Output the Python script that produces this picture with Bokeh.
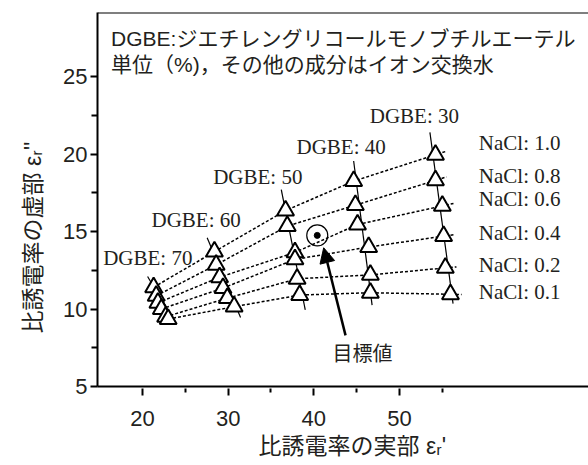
import math
from bokeh.plotting import figure
from bokeh.models import Label, Span, Arrow, NormalHead, FixedTicker, Range1d, Title
from bokeh.embed import file_html
from bokeh.resources import INLINE

# ---------------- data ----------------
dgbe = [70, 60, 50, 40, 30]                 # DGBE concentration (%)
nacl = [1.0, 0.8, 0.6, 0.4, 0.2, 0.1]       # NaCl concentration (%)

# real part eps_r' for each DGBE column (ordered like nacl)
re_d70 = [21.3, 21.6, 21.8, 22.2, 22.7, 23.0]
re_d60 = [28.4, 28.6, 29.0, 29.4, 29.9, 30.7]
re_d50 = [36.7, 36.9, 37.8, 37.8, 38.05, 38.35]
re_d40 = [44.65, 44.85, 45.1, 46.4, 46.6, 46.6]
re_d30 = [54.2, 54.2, 55.0, 55.15, 55.35, 55.95]
# imaginary part eps_r''
im_d70 = [11.4, 10.85, 10.4, 10.0, 9.5, 9.35]
im_d60 = [13.7, 12.85, 12.05, 11.35, 10.7, 10.15]
im_d50 = [16.35, 15.35, 13.65, 13.2, 11.95, 10.9]
im_d40 = [18.25, 16.7, 15.45, 14.0, 12.2, 11.05]
im_d30 = [19.95, 18.3, 16.65, 14.7, 12.65, 10.95]

# fitted straight line through each DGBE column (ends)
fit_re_top = [20.6, 27.55, 36.2, 44.65, 53.55]
fit_im_top = [12.1, 14.6, 17.7, 19.55, 21.4]
fit_re_bot = [23.85, 31.45, 39.0, 46.8, 56.25]
fit_im_bot = [9.0, 9.45, 9.95, 10.25, 10.35]

# target value
target_re = [40.4]
target_im = [14.75]

x_ticks = [20, 30, 40, 50]
x_minor = [25, 35, 45, 55]
y_ticks = [5, 10, 15, 20, 25]
y_minor = [7.5, 12.5, 17.5, 22.5]

title1 = "DGBE:ジエチレングリコールモノブチルエーテル"
title2 = "単位（%)，その他の成分はイオン交換水"
xlabel = "比誘電率の実部 εᵣ'"
ylabel = "比誘電率の虚部 εᵣ''"
target_label = "目標値"

re_cols = [re_d70, re_d60, re_d50, re_d40, re_d30]
im_cols = [im_d70, im_d60, im_d50, im_d40, im_d30]

# ---------------- figure ----------------
TXT = "#231f20"
SANS = "Liberation Sans, Noto Sans CJK JP"
CJK = "Noto Sans CJK JP"
SERIF = "Liberation Serif"

p = figure(width=588, height=465, output_backend="svg", toolbar_location=None,
           x_range=Range1d(14.75, 72.06), y_range=Range1d(5, 29.13),
           min_border_left=97, min_border_right=0, min_border_top=12,
           min_border_bottom=79)
p.outline_line_color = None
p.xgrid.visible = False
p.ygrid.visible = False
p.background_fill_color = "white"
p.border_fill_color = "white"

p.xaxis.ticker = FixedTicker(ticks=x_ticks, minor_ticks=x_minor)
p.yaxis.ticker = FixedTicker(ticks=y_ticks, minor_ticks=y_minor)
for ax in (p.xaxis, p.yaxis):
    ax.axis_line_width = 2
    ax.axis_line_color = "black"
    ax.major_tick_line_width = 2
    ax.minor_tick_line_width = 2
    ax.major_tick_line_color = "black"
    ax.minor_tick_line_color = "black"
    ax.major_label_text_font = "Liberation Sans"
    ax.major_label_text_font_size = "22px"
    ax.major_label_text_color = TXT
p.xaxis.major_tick_in = -2
p.xaxis.major_tick_out = 9
p.xaxis.minor_tick_in = -2
p.xaxis.minor_tick_out = 6
p.xaxis.major_label_standoff = 15
p.yaxis.major_tick_in = 0
p.yaxis.major_tick_out = 7
p.yaxis.minor_tick_in = 0
p.yaxis.minor_tick_out = 6
p.yaxis.major_label_standoff = 3

# axis titles
p.add_layout(Title(text=xlabel, align="left", offset=161, vertical_align="top",
                   standoff=9, text_font=SANS, text_font_size="23px",
                   text_font_style="normal", text_color=TXT), "below")
p.add_layout(Title(text=ylabel, align="left", offset=53, vertical_align="bottom",
                   standoff=30, text_font=SANS, text_font_size="23px",
                   text_font_style="normal", text_color=TXT), "left")

# top border
p.add_layout(Span(location=29.13, dimension="width", line_color="black", line_width=2))

# fitted column lines
p.segment(fit_re_top, fit_im_top, fit_re_bot, fit_im_bot, line_color="black", line_width=1.2)

# dotted iso-NaCl lines (with a short continuation past the last column)
for i in range(len(nacl)):
    xs = [c[i] for c in re_cols]
    ys = [c[i] for c in im_cols]
    slope = (ys[-1] - ys[-2]) / (xs[-1] - xs[-2])
    xs2 = xs + [xs[-1] + 1.3]
    ys2 = ys + [ys[-1] + slope * 1.3]
    p.line(xs2, ys2, line_color="black", line_width=1.5, line_dash="3 2")

# markers
for rc, ic in zip(re_cols, im_cols):
    p.scatter(rc, ic, marker="triangle", size=17, fill_color="white",
              line_color="black", line_width=2)

# target
p.scatter(target_re, target_im, marker="circle", size=21, fill_color=None,
          line_color="black", line_width=1.2)
p.scatter(target_re, target_im, marker="circle", size=6, fill_color="black",
          line_color="black")
p.add_layout(Arrow(end=NormalHead(size=15, fill_color="black", line_color="black"),
                   x_start=43.7, y_start=8.3, x_end=41.15, y_end=13.95,
                   line_width=2.5, line_color="black"))

# DGBE labels
dgbe_pos = [(15.41, 13.30), (21.05, 15.75), (28.25, 18.50), (37.98, 20.44), (46.53, 22.48)]
for d, (lx, ly) in zip(dgbe, dgbe_pos):
    p.add_layout(Label(x=lx, y=ly, text=f"DGBE: {d}", text_font=SERIF,
                       text_font_size="21px", text_color=TXT,
                       text_align="left", text_baseline="middle"))

# NaCl labels
nacl_y = [20.70, 18.61, 17.11, 14.89, 12.87, 11.08]
for n, ly in zip(nacl, nacl_y):
    p.add_layout(Label(x=59.26, y=ly, text=f"NaCl: {n:.1f}", text_font=SERIF,
                       text_font_size="21px", text_color=TXT,
                       text_align="left", text_baseline="middle"))

# title lines
p.add_layout(Label(x=16.33, y=27.48, text=title1, text_font=SANS, text_font_size="21px",
                   text_color=TXT, text_align="left", text_baseline="middle"))
p.add_layout(Label(x=16.33, y=25.79, text=title2, text_font=SANS, text_font_size="21px",
                   text_color=TXT, text_align="left", text_baseline="middle"))

# target label
p.add_layout(Label(x=45.68, y=7.19, text=target_label, text_font=CJK, text_font_size="20px",
                   text_color=TXT, text_align="center", text_baseline="middle"))

open("out.html", "w").write(file_html(p, INLINE))
